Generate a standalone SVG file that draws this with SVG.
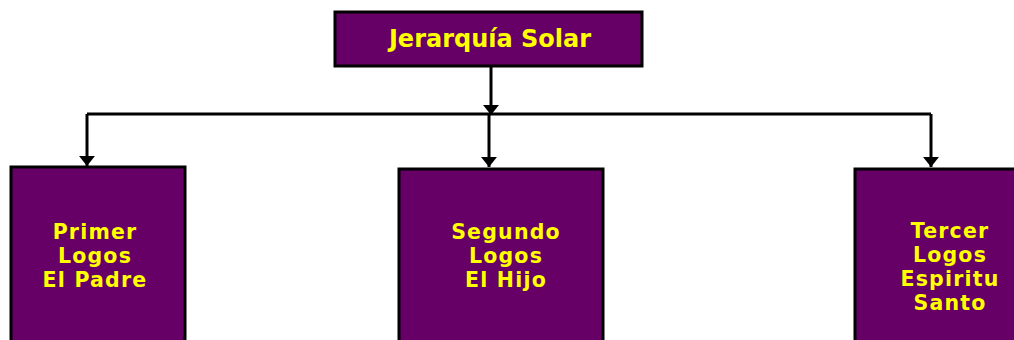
<svg xmlns="http://www.w3.org/2000/svg" width="1014" height="340" viewBox="0 0 1014 340">
<defs>
<style>
.box{fill:#660066;stroke:#000;stroke-width:3}
.t{fill:#ffff00;font-family:"DejaVu Sans",Verdana,sans-serif;font-weight:bold;font-size:20.5px;letter-spacing:1.2px;text-anchor:middle}
.h{font-size:24px;letter-spacing:0}
.c{fill:none;stroke:#000;stroke-width:3}
</style>
<marker id="ah" viewBox="0 0 10 10" refX="10" refY="5" markerWidth="3.3" markerHeight="5.3" markerUnits="strokeWidth" orient="auto" preserveAspectRatio="none">
<path d="M0,0 L10,5 L0,10 z" fill="#000"/>
</marker>
</defs>
<rect width="1014" height="340" fill="#fff"/>
<g id="connectors">
<path class="c" d="M491,66 V115" marker-end="url(#ah)"/>
<path class="c" d="M87,114 H931"/>
<path class="c" d="M87,114 V166" marker-end="url(#ah)"/>
<path class="c" d="M489,114 V167" marker-end="url(#ah)"/>
<path class="c" d="M931,114 V167" marker-end="url(#ah)"/>
</g>
<g id="n-top">
<rect class="box" x="335" y="12" width="307" height="54"/>
<text class="t h" x="490" y="47">Jerarquía Solar</text>
</g>
<g id="n-primer">
<rect class="box" x="11" y="167" width="174" height="180"/>
<text class="t" x="95" y="239">Primer</text>
<text class="t" x="95" y="263">Logos</text>
<text class="t" x="95" y="287">El Padre</text>
</g>
<g id="n-segundo">
<rect class="box" x="399" y="169" width="204" height="180"/>
<text class="t" x="506" y="239">Segundo</text>
<text class="t" x="506" y="263">Logos</text>
<text class="t" x="506" y="287">El Hijo</text>
</g>
<g id="n-tercer">
<rect class="box" x="855" y="169" width="180" height="180"/>
<text class="t" x="950" y="238">Tercer</text>
<text class="t" x="950" y="262">Logos</text>
<text class="t" x="950" y="286">Espiritu</text>
<text class="t" x="950" y="310">Santo</text>
</g>
</svg>
